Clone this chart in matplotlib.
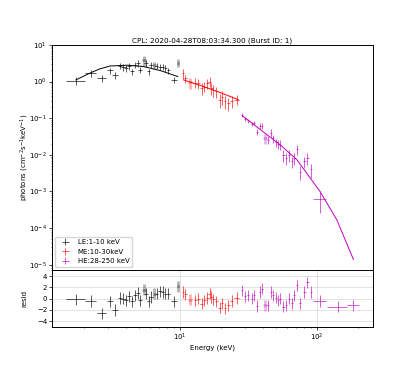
import numpy as np
import matplotlib
matplotlib.use("Agg")
import matplotlib.pyplot as plt

plt.rcParams['font.size'] = 5

title = "CPL: 2020-04-28T08:03:34.300 (Burst ID: 1)"

# LE: 1-10 keV
le_e = [1.74, 2.23, 2.68, 3.08, 3.36, 3.65, 3.86, 4.04, 4.25, 4.44, 4.69, 4.91, 5.1,
        5.46, 5.65, 5.9, 6.14, 6.49, 6.76, 7.14, 7.48, 7.81, 8.22, 9.04, 9.62]
le_xerr = [0.27, 0.22, 0.21, 0.17, 0.15, 0.14, 0.14, 0.14, 0.15, 0.15, 0.15, 0.16, 0.16,
           0.17, 0.17, 0.17, 0.18, 0.18, 0.18, 0.2, 0.2, 0.2, 0.22, 0.45, 0.2]
le_flux = [1.06, 1.7, 1.24, 2.0, 1.52, 2.68, 2.46, 2.32, 2.6, 1.88, 2.85, 3.16, 2.08,
           3.9, 3.16, 1.88, 2.85, 2.85, 2.68, 2.57, 2.5, 2.32, 2.0, 1.11, 3.3]
le_rel = [0.25, 0.22, 0.22, 0.2, 0.22, 0.2, 0.2, 0.2, 0.2, 0.2, 0.2, 0.2, 0.2,
          0.3, 0.22, 0.2, 0.2, 0.22, 0.2, 0.2, 0.2, 0.2, 0.2, 0.2, 0.25]
le_res = [-0.1, -0.4, -2.6, -0.5, -2.0, 0.1, 0.0, -0.3, 0.4, -0.5, 0.6, 1.0, -0.3,
          1.6, 0.9, -0.5, 0.3, 0.9, 0.9, 1.3, 1.2, 0.9, 0.9, -0.5, 2.2]
le_faint = [13, 17, 24]
le_mod_e = [1.74, 2.2, 2.6, 3.08, 4.08, 5.4, 7.14, 9.62]
le_mod_f = [1.11, 1.70, 2.22, 2.65, 2.79, 2.57, 2.0, 1.37]

# ME: 10-30 keV
me_e = [10.5, 10.9, 11.8, 12.9, 13.6, 14.4, 15.0, 15.8, 16.4, 16.9, 17.5, 18.4,
        19.4, 20.2, 21.3, 22.5, 23.8, 25.9]
me_xerr = [0.25, 0.26, 0.35, 0.3, 0.32, 0.33, 0.35, 0.37, 0.38, 0.4, 0.4, 0.42,
           0.45, 0.47, 0.5, 0.55, 0.6, 1.0]
me_flux = [1.7, 1.24, 0.95, 0.94, 0.9, 0.66, 0.73, 0.9, 1.0, 0.66, 0.59, 0.54,
           0.32, 0.39, 0.29, 0.26, 0.29, 0.32]
me_rel = [0.3, 0.25, 0.35, 0.3, 0.3, 0.35, 0.3, 0.3, 0.3, 0.35, 0.35, 0.35,
          0.4, 0.4, 0.4, 0.4, 0.35, 0.3]
me_res = [1.2, 0.8, -0.2, -0.3, 0.0, -0.9, -0.3, 0.1, 0.9, 0.3, -0.1, -0.5,
          -1.6, -0.8, -1.7, -1.2, -0.4, 0.1]
me_faint = [2]
me_mod_e = [10.6, 14.8, 19.6, 26.6]
me_mod_f = [1.11, 0.73, 0.50, 0.32]

# HE: 28-250 keV
he_e = [28.5, 29.8, 31.5, 33.4, 34.7, 36.3, 38.4, 39.5, 41.7, 44.0, 46.0, 47.9, 49.9,
        51.6, 53.7, 56.8, 59.4, 62.8, 65.3, 67.9, 71.1, 75.2, 80.8, 85.0, 89.6, 105,
        141.6, 184]
he_xerr = [0.5, 0.5, 0.55, 0.6, 0.6, 0.65, 0.7, 0.7, 1.5, 0.8, 0.8, 0.85, 0.9,
           0.9, 1.0, 1.0, 1.1, 1.1, 1.2, 1.2, 1.3, 1.3, 1.5, 1.5, 1.6, 11, 24, 19]
he_flux = [0.124, 0.094, 0.0865, 0.070, 0.075, 0.043, 0.062, 0.062, 0.028, 0.026, 0.040,
           0.028, 0.022, 0.020, 0.019, 0.010, 0.0081, 0.010, 0.0066, 0.0081, 0.0145,
           0.0035, 0.0066, 0.0081, 0.0040, 6.3e-4]
he_rel = [0.12, 0.12, 0.12, 0.15, 0.15, 0.2, 0.18, 0.18, 0.3, 0.25, 0.25, 0.25, 0.25,
          0.3, 0.3, 0.35, 0.35, 0.35, 0.35, 0.35, 0.3, 0.4, 0.35, 0.35, 0.4, 0.6]
he_res = [1.5, 0.4, 0.6, 0.0, 0.6, -1.3, 1.2, 1.75, -1.2, -1.2, 1.2, 0.6, 0.2,
          -0.3, 0.0, -1.45, -1.2, 0.0, -0.8, 0.6, 2.35, -0.8, 1.2, 2.9, 1.2, -0.4,
          -1.45, -1.2]
he_faint = [8]
he_mod_e = [28.5, 53.7, 71.1, 105, 139, 184]
he_mod_f = [0.116, 0.0188, 0.0074, 1.0e-3, 1.7e-4, 1.4e-5]

sets = [
    ("LE:1-10 keV", "k", le_e, le_xerr, le_flux, le_rel, le_res, le_faint, le_mod_e, le_mod_f),
    ("ME:10-30keV", "r", me_e, me_xerr, me_flux, me_rel, me_res, me_faint, me_mod_e, me_mod_f),
    ("HE:28-250 keV", "m", he_e, he_xerr, he_flux, he_rel, he_res, he_faint, he_mod_e, he_mod_f),
]

fig = plt.figure(figsize=(4.15, 3.74), dpi=100)
gs = fig.add_gridspec(2, 1, height_ratios=[4, 1], hspace=0,
                      left=0.125, right=0.899, top=0.88, bottom=0.126)
ax = fig.add_subplot(gs[0])
axr = fig.add_subplot(gs[1], sharex=ax)

for label, col, e, xe, f, rel, res, faint, me, mf in sets:
    e = np.array(e)
    xe = np.array(xe)
    f = np.array(f)
    ye = f * np.array(rel)
    n = len(f)
    good = np.array([i for i in range(n) if i not in faint])
    bad = np.array(faint)
    ax.errorbar(e[good], f[good], xerr=xe[good], yerr=ye[good], fmt='none',
                ecolor=col, elinewidth=0.6, alpha=0.75, label=label)
    ax.errorbar(e[bad], f[bad], xerr=xe[bad], yerr=ye[bad], fmt='none',
                ecolor=col, elinewidth=2.0, alpha=0.3)
    ax.plot(me, mf, color=col, lw=0.7)
    res = np.array(res)
    goodr = np.array([i for i in range(len(res)) if i not in faint])
    axr.errorbar(e[goodr], res[goodr], xerr=xe[goodr], yerr=1.0, fmt='none',
                 ecolor=col, elinewidth=0.6, alpha=0.75)
    axr.errorbar(e[bad], res[bad], xerr=xe[bad], yerr=1.0, fmt='none',
                 ecolor=col, elinewidth=2.0, alpha=0.3)

ax.set_xscale('log')
ax.set_yscale('log')
ax.set_xlim(1.16, 256)
ax.set_ylim(7e-6, 10)
ax.set_title(title, fontsize=5.2, pad=2)
ax.set_ylabel(r'photons (cm$^{-2}$s$^{-1}$keV$^{-1}$)')
ax.yaxis.set_label_coords(-0.065, 0.5)
ax.legend(loc='lower left', fontsize=5)
plt.setp(ax.get_xticklabels(), visible=False)

axr.set_ylim(-5, 5)
axr.set_yticks([-4, -2, 0, 2, 4])
axr.grid(True, color='#dddddd', lw=0.6)
axr.set_axisbelow(True)
axr.set_ylabel('resid')
axr.yaxis.set_label_coords(-0.075, 0.5)
axr.set_xlabel('Energy (keV)', labelpad=1)

for a in (ax, axr):
    a.tick_params(which='major', length=2, width=0.5, pad=1.5)
    a.tick_params(which='minor', length=1, width=0.4)
    for s in a.spines.values():
        s.set_linewidth(0.7)

plt.savefig('out.png', dpi=100)
plt.close()
